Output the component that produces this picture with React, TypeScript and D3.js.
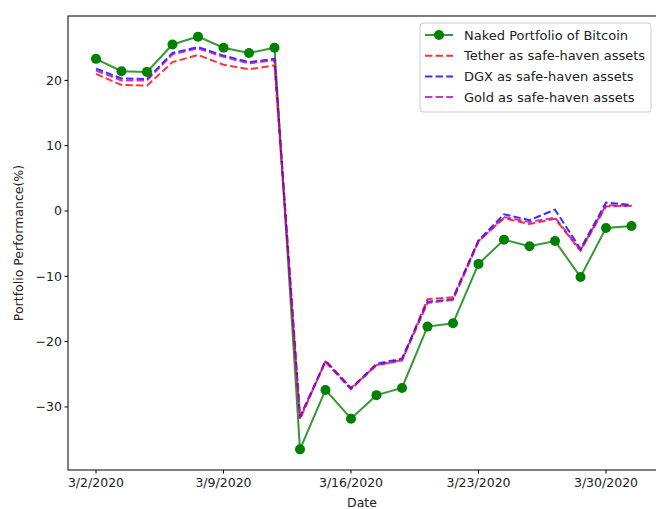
import React from "react";
import * as d3 from "d3";

const dateLabels = ["3/2/2020", "3/9/2020", "3/16/2020", "3/23/2020", "3/30/2020"];
const dateTickIdx = [0, 5, 10, 15, 20];
const yTicks = [-30, -20, -10, 0, 10, 20];

const naked = [23.3, 21.4, 21.3, 25.5, 26.7, 25.0, 24.2, 25.0, -36.5, -27.4, -31.8, -28.2, -27.1, -17.7, -17.2, -8.1, -4.4, -5.4, -4.6, -10.1, -2.6, -2.3];
const tether = [21.0, 19.3, 19.2, 22.8, 23.9, 22.4, 21.7, 22.3, -31.9, -22.9, -27.1, -23.6, -22.8, -13.5, -13.2, -4.6, -1.1, -2.0, -1.2, -6.1, 0.7, 0.8];
const dgx = [21.8, 20.3, 20.2, 24.2, 25.1, 23.8, 22.8, 23.3, -31.5, -23.0, -27.2, -23.4, -22.6, -13.9, -13.5, -4.5, -0.5, -1.4, 0.2, -5.8, 1.3, 0.9];
const gold = [21.5, 20.0, 20.0, 24.0, 24.9, 23.6, 22.6, 23.1, -31.7, -23.1, -27.3, -23.6, -22.9, -14.1, -13.6, -4.7, -0.9, -1.7, -1.0, -6.0, 0.9, 0.8];

const seriesNames = ["Naked Portfolio of Bitcoin", "Tether as safe-haven assets", "DGX as safe-haven assets", "Gold as safe-haven assets"];
const seriesColors = ["#008000", "#ff0000", "#0000ff", "#bf00bf"];

const W = 656, H = 509;
const L = 68, T = 16, R = 660, B = 470;
const FONT = "DejaVu Sans, sans-serif";

export default function App() {
  const allVals = [...naked, ...tether, ...dgx, ...gold];
  const ymin = d3.min(allVals)!, ymax = d3.max(allVals)!;
  const ypad = (ymax - ymin) * 0.05;
  const x = d3.scaleLinear().domain([0, 20]).range([96, 606]);
  const y = d3.scaleLinear().domain([ymin - ypad, ymax + ypad]).range([B, T]);
  const line = d3.line<number>().x((_, i) => x(i)).y((v) => y(v));
  const series = [naked, tether, dgx, gold];

  return (
    <svg width={W} height={H} style={{ position: "fixed", left: 0, top: 0, background: "#fff" }} fontFamily={FONT}>
      <rect x={0} y={0} width={W} height={H} fill="#fff" />
      <defs>
        <clipPath id="plot">
          <rect x={L} y={T} width={R - L} height={B - T} />
        </clipPath>
      </defs>
      <g clipPath="url(#plot)">
        {series.map((s, k) => (
          <path
            key={k}
            d={line(s)!}
            fill="none"
            stroke={seriesColors[k]}
            strokeOpacity={0.8}
            strokeWidth={2}
            strokeDasharray={k === 0 ? undefined : "7.4,3.2"}
          />
        ))}
        {naked.map((v, i) => (
          <circle key={i} cx={x(i)} cy={y(v)} r={5} fill="#008000" fillOpacity={1} />
        ))}
      </g>
      {/* axes frame */}
      <rect x={L} y={T} width={R - L} height={B - T} fill="none" stroke="#000" strokeWidth={1} />
      {/* y ticks */}
      {yTicks.map((t) => (
        <g key={t}>
          <line x1={L - 3.5} x2={L} y1={y(t)} y2={y(t)} stroke="#000" />
          <text x={L - 6} y={y(t)} dy="0.35em" textAnchor="end" fontSize={12.5} fill="#222">
            {t < 0 ? "\u2212" + Math.abs(t) : String(t)}
          </text>
        </g>
      ))}
      {/* x ticks */}
      {dateTickIdx.map((idx, j) => (
        <g key={idx}>
          <line x1={x(idx)} x2={x(idx)} y1={B} y2={B + 3.5} stroke="#000" />
          <text x={x(idx)} y={B + 17} textAnchor="middle" fontSize={12.5} fill="#222">
            {dateLabels[j]}
          </text>
        </g>
      ))}
      <text x={362} y={503} dy="0.35em" textAnchor="middle" fontSize={12.5} fill="#222">Date</text>
      <text transform={`translate(19,${(T + B) / 2}) rotate(-90)`} textAnchor="middle" dy="0.35em" fontSize={12.5} fill="#222">
        Portfolio Performance(%)
      </text>
      {/* legend */}
      <rect x={420} y={23} width={231} height={89} rx={3} fill="#fff" fillOpacity={0.8} stroke="#ccc" />
      {seriesNames.map((name, k) => {
        const ly = 35 + k * 20.7;
        return (
          <g key={k}>
            <line x1={425} x2={453} y1={ly} y2={ly} stroke={seriesColors[k]} strokeOpacity={0.8} strokeWidth={2}
              strokeDasharray={k === 0 ? undefined : "7.4,3.2"} />
            {k === 0 && <circle cx={439} cy={ly} r={5} fill="#008000" />}
            <text x={464} y={ly} dy="0.35em" fontSize={13} fill="#222">{name}</text>
          </g>
        );
      })}
    </svg>
  );
}
